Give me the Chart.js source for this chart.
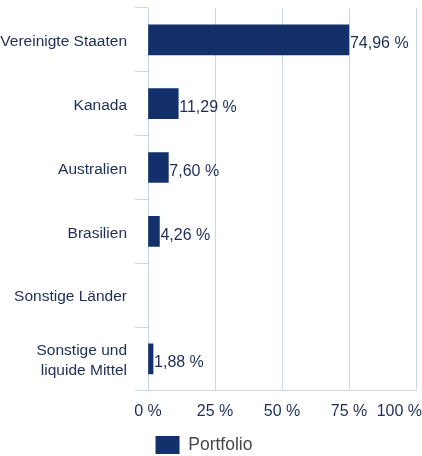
<!DOCTYPE html>
<html lang="de">
  <head>
    <meta charset="UTF-8" />
    <title>Länderallokation</title>
    <script src="https://cdn.jsdelivr.net/npm/chart.js@4"></script>
    <style>
      html,
      body {
        margin: 0;
        padding: 0;
        background: #fff;
      }
      #wrap {
        width: 422px;
        height: 456px;
      }
    </style>
  </head>
  <body>
    <div id="wrap">
      <canvas id="chart"></canvas>
    </div>

    <script>
      const countries = [
        "Vereinigte Staaten",
        "Kanada",
        "Australien",
        "Brasilien",
        "Sonstige Länder",
        ["Sonstige und", "liquide Mittel"],
      ];
      const portfolio = [74.96, 11.29, 7.6, 4.26, null, 1.88];
      const xTicks = [0, 25, 50, 75, 100];

      const navy = "#13306b";
      const textColor = "#1d2d55";
      const gridColor = "#c9d7ea";
      const family = "'Liberation Sans', Arial, sans-serif";
      const font = { family: family, size: 16 };
      const xPad = 11;

      function pct(v, digits) {
        return v.toFixed(digits).replace(".", ",") + " %";
      }

      // value text right next to the end of each bar
      const barLabels = {
        id: "barLabels",
        afterDatasetsDraw(chart) {
          const ctx = chart.ctx;
          const meta = chart.getDatasetMeta(0);
          ctx.save();
          ctx.font = "16px " + family;
          ctx.fillStyle = textColor;
          ctx.textAlign = "left";
          ctx.textBaseline = "middle";
          meta.data.forEach((bar, i) => {
            const v = portfolio[i];
            if (v == null) return;
            ctx.fillText(pct(v, 2), bar.x + 1, bar.y + 4);
          });
          ctx.restore();
        },
      };

      // last x label is pulled inside the canvas instead of being centred,
      // and the legend sits a little left of the middle
      const tweaks = {
        id: "tweaks",
        afterLayout(chart) {
          chart.legend.right -= 8;
        },
        afterDraw(chart) {
          const x = chart.scales.x;
          const ctx = chart.ctx;
          ctx.save();
          ctx.font = "16px " + family;
          ctx.fillStyle = textColor;
          ctx.textAlign = "right";
          ctx.textBaseline = "middle";
          ctx.fillText(xTicks[xTicks.length - 1] + " %", chart.width, x.top + xPad + 10);
          ctx.restore();
        },
      };

      new Chart(document.getElementById("chart"), {
        type: "bar",
        data: {
          labels: countries,
          datasets: [
            {
              label: "Portfolio",
              data: portfolio,
              backgroundColor: navy,
              barThickness: 30,
            },
          ],
        },
        options: {
          indexAxis: "y",
          responsive: true,
          maintainAspectRatio: false,
          animation: false,
          layout: { padding: { top: 8, right: 6, bottom: -8, left: 0 } },
          scales: {
            x: {
              min: 0,
              max: 100,
              afterBuildTicks: (s) => {
                s.ticks = xTicks.map((v) => ({ value: v }));
              },
              afterFit: (s) => {
                s.paddingRight = 0;
              },
              border: { color: gridColor },
              grid: { color: gridColor, drawTicks: false },
              ticks: {
                font: font,
                padding: xPad,
                color: (c) => (c.index === xTicks.length - 1 ? "transparent" : textColor),
                callback: (v) => v + " %",
              },
            },
            y: {
              afterFit: (s) => {
                s.width = 148;
                s.paddingTop = 0;
                s.paddingBottom = 0;
              },
              border: { color: gridColor },
              grid: {
                color: gridColor,
                drawOnChartArea: false,
                tickLength: 13,
                offset: true,
              },
              ticks: {
                font: { family: family, size: 15.5, lineHeight: 1.3 },
                color: textColor,
                padding: 8,
                labelOffset: 2,
              },
            },
          },
          plugins: {
            legend: {
              position: "bottom",
              labels: {
                font: { family: family, size: 17.5 },
                color: "#484848",
                boxWidth: 24,
                boxHeight: 18,
                padding: 4,
              },
            },
            tooltip: { enabled: false },
          },
        },
        plugins: [barLabels, tweaks],
      });
    </script>
  </body>
</html>
